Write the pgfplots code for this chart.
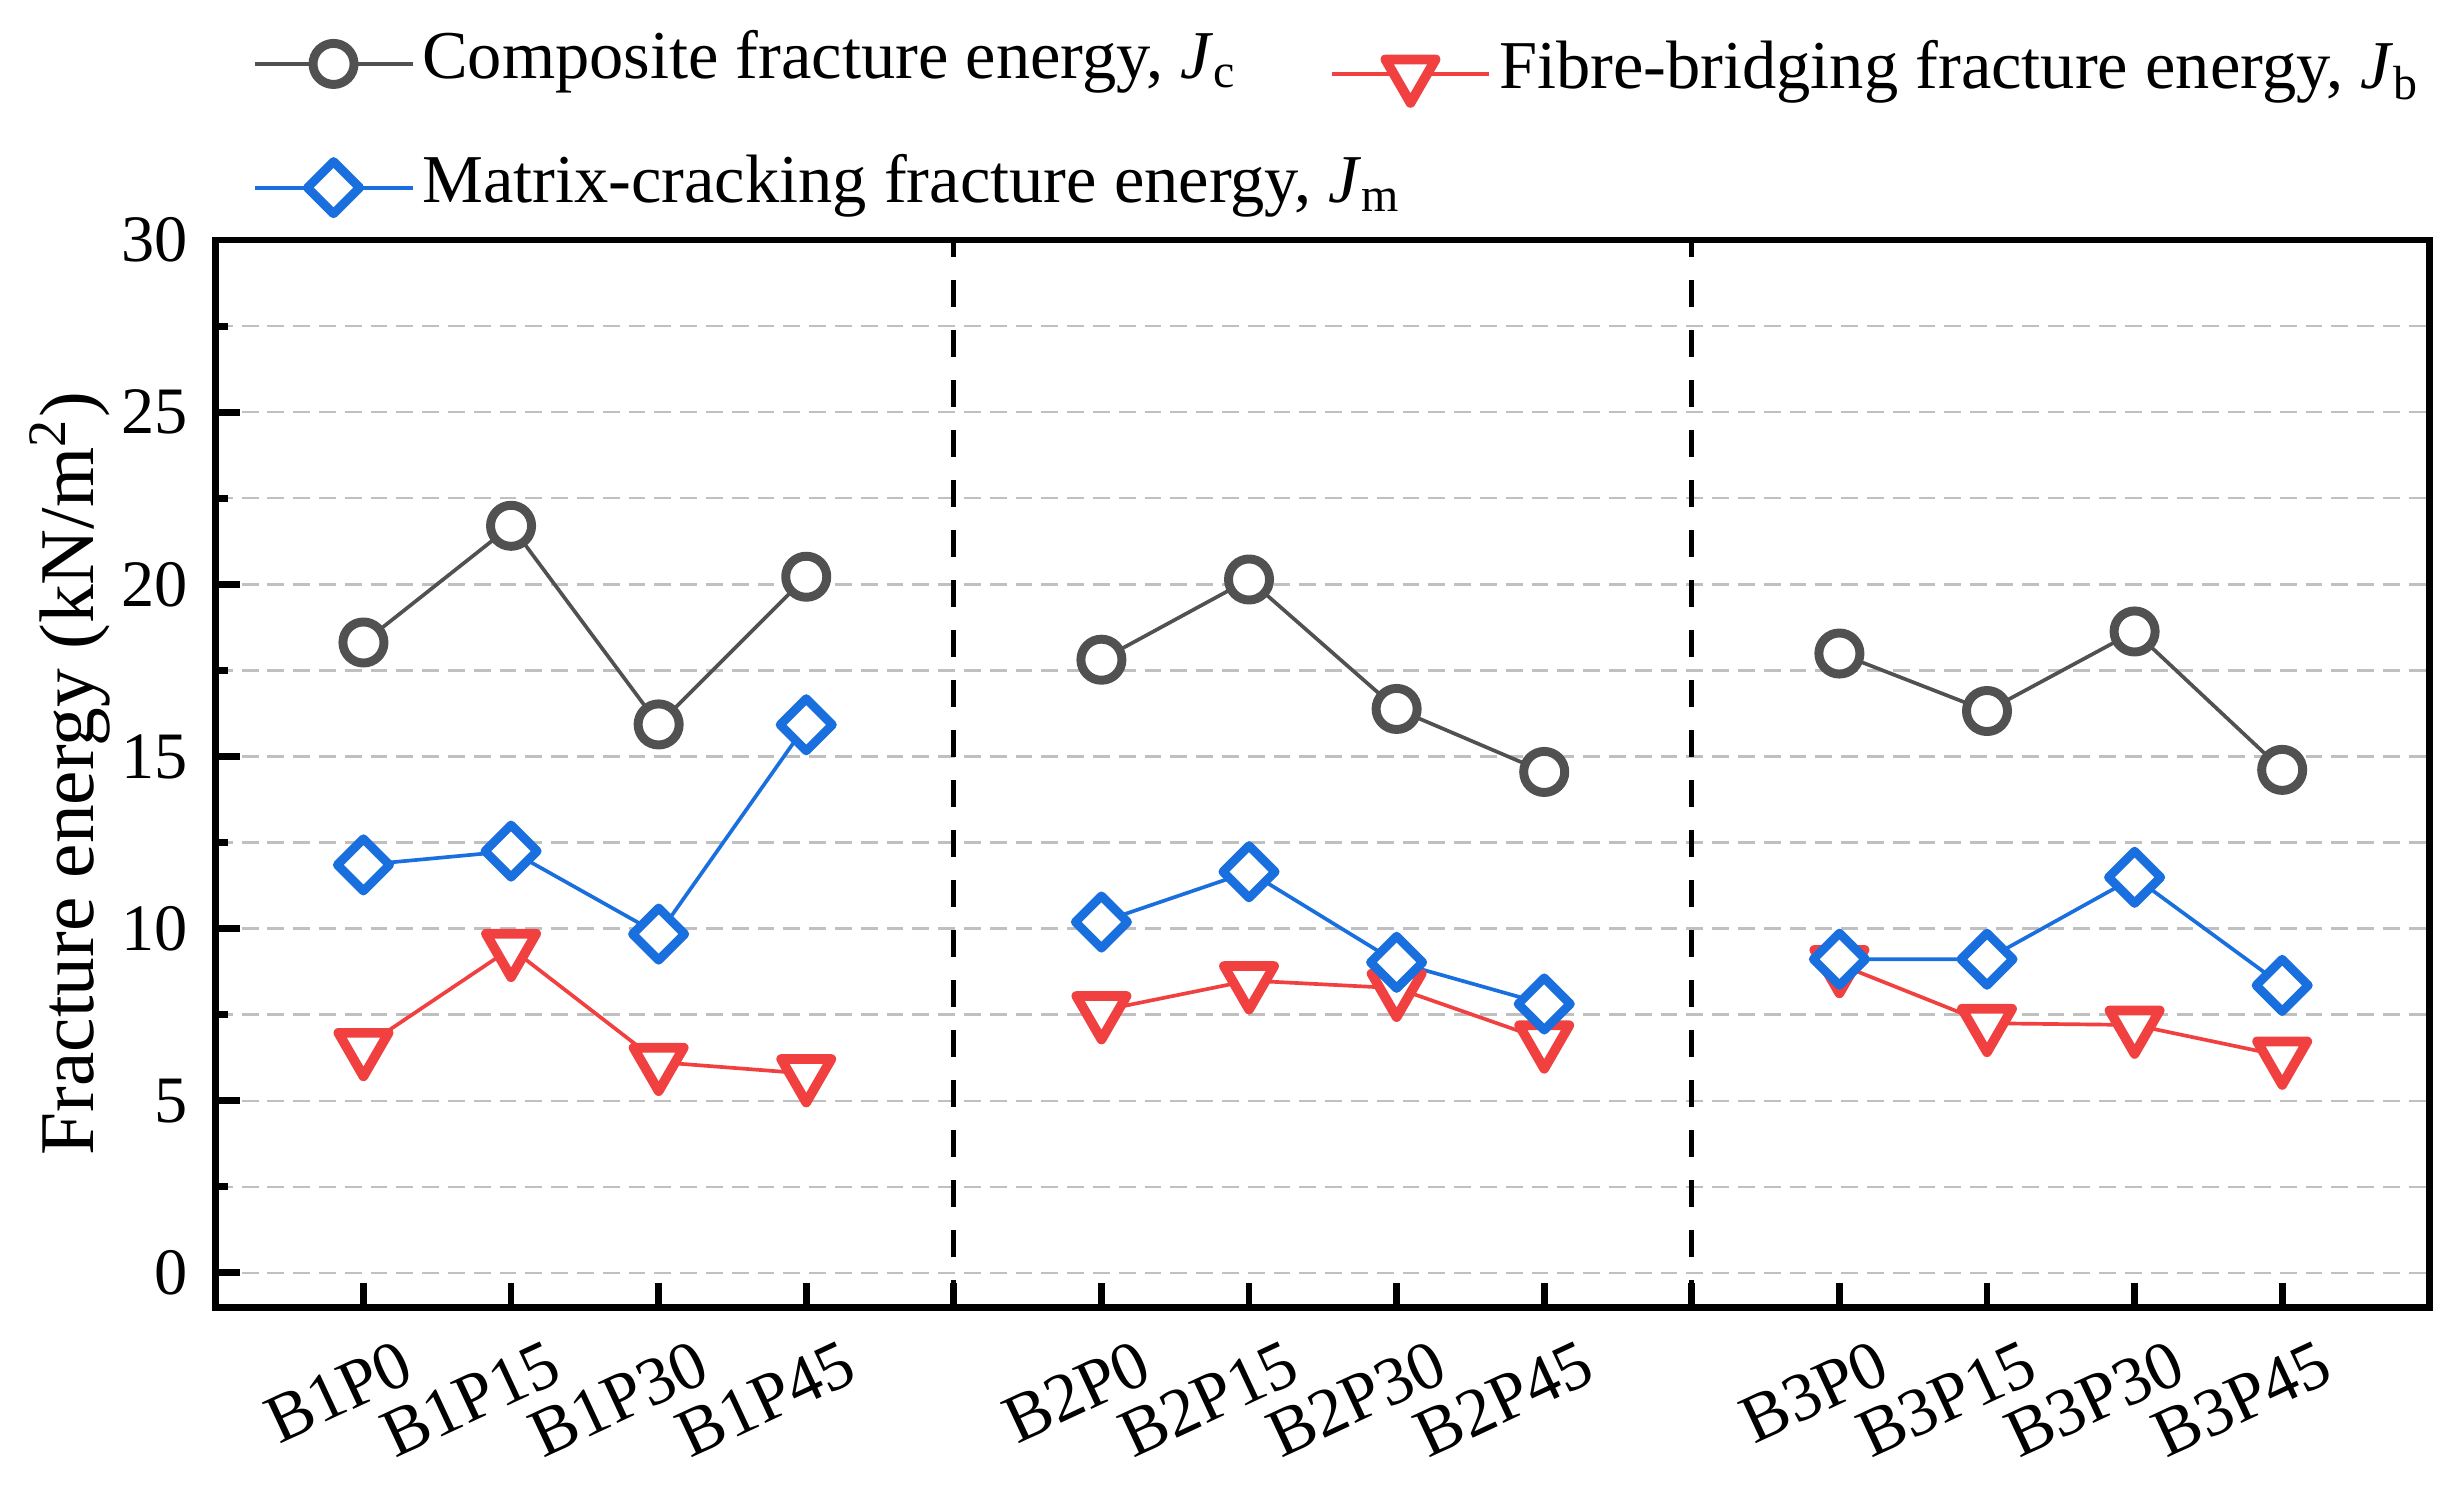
\documentclass[border=0pt]{standalone}
\usepackage{fontspec}
\setmainfont{Liberation Serif}
\usepackage{pgfplots}
\pgfplotsset{compat=1.18}
\definecolor{cgray}{HTML}{515151}
\definecolor{cred}{HTML}{F14040}
\definecolor{cblue}{HTML}{1A6FDF}
\pgfplotsset{
  std legend/.style={legend image code/.code={\draw[mark repeat=2, mark phase=2, ##1] plot coordinates {(0pt,0pt) (15pt,0pt) (30pt,0pt)};}},
  low legend/.style={legend image code/.code={\draw[mark repeat=2, mark phase=2, yshift=-1.9pt, ##1] plot coordinates {(0pt,0pt) (15pt,0pt) (30pt,0pt)};}},
}
\begin{document}
\begin{tikzpicture}
\begin{axis}[
  scale only axis,
  width=420.5pt, height=202.7pt,
  xmin=0, xmax=15, ymin=-1, ymax=30,
  axis line style={line width=1.3pt, black},
  every tick/.style={black, line width=1.3pt},
  tick align=inside,
  xtick pos=left, ytick pos=left,
  major tick length=4.6pt, minor tick length=2.3pt,
  xtick={1,2,3,4,5,6,7,8,9,10,11,12,13,14},
  xticklabels={B1P0,B1P15,B1P30,B1P45,,B2P0,B2P15,B2P30,B2P45,,B3P0,B3P15,B3P30,B3P45},
  ytick={0,5,10,15,20,25,30},
  minor ytick={2.5,7.5,12.5,17.5,22.5,27.5},
  ymajorgrids, yminorgrids,
  major grid style={line width=0.45pt, color={rgb,255:red,192;green,192;blue,192}, dash pattern=on 3.2pt off 1.7pt},
  minor grid style={line width=0.45pt, color={rgb,255:red,192;green,192;blue,192}, dash pattern=on 3.2pt off 1.7pt},
  /pgf/number format/assume math mode=true,
  tick label style={font=\fontsize{12.6}{15}\selectfont},
  yticklabel style={inner sep=0pt, xshift=-5.1pt},
  xticklabel style={xshift=6.6pt, yshift=-5.7pt, rotate=25, anchor=north east, inner sep=0pt, font=\fontsize{13}{15}\selectfont},
  ylabel={Fracture energy (kN/m\textsuperscript{2})},
  every axis y label/.style={at={(axis description cs:0,0.5)}, xshift=-27.7pt, rotate=90, anchor=center, font=\fontsize{14.7}{17}\selectfont},
  unbounded coords=jump,
  legend columns=2,
  legend cell align=left,
  legend style={draw=none, fill=none, at={(axis description cs:0,1)}, anchor=south west,
    xshift=6.8pt, yshift=2pt, inner sep=0pt,
    font=\fontsize{13}{15}\selectfont,
    nodes={inner sep=1.5pt, text height=9pt, text depth=3.5pt},
    row sep=8pt,
    /tikz/every even column/.append style={column sep=16pt}},
  std legend,
]
\addplot[forget plot, black, line width=1.0pt, dash pattern=on 5.1pt off 4.4pt] coordinates {(5,-1) (5,30)};
\addplot[forget plot, black, line width=1.0pt, dash pattern=on 5.1pt off 4.4pt] coordinates {(10,-1) (10,30)};
\addplot[cgray, line width=0.7pt, mark=*, mark size=3.9pt,
  mark options={fill=white, draw=cgray, line width=1.7pt, line join=round}]
  coordinates {(1,18.31) (2,21.70) (3,15.93) (4,20.22) (5,nan)
               (6,17.81) (7,20.14) (8,16.38) (9,14.55) (10,nan)
               (11,17.99) (12,16.32) (13,18.63) (14,14.61)};
\addlegendentry{Composite fracture energy, \textit{J}\textsubscript{c}}
\addplot[cred, line width=0.7pt, mark=triangle*, mark size=5.5pt,
  mark options={fill=white, draw=cred, line width=1.85pt, line join=round, rotate=180},
  low legend]
  coordinates {(1,6.55) (2,9.43) (3,6.12) (4,5.79) (5,nan)
               (6,7.62) (7,8.49) (8,8.27) (9,6.77) (10,nan)
               (11,8.96) (12,7.25) (13,7.20) (14,6.30)};
\addlegendentry{\raisebox{-1.9pt}{Fibre-bridging fracture energy, \textit{J}\textsubscript{b}}}
\addplot[cblue, line width=0.7pt, mark=square*, mark size=3.5pt,
  mark options={fill=white, draw=cblue, line width=1.7pt, line join=round, rotate=45}]
  coordinates {(1,11.85) (2,12.25) (3,9.84) (4,15.92) (5,nan)
               (6,10.19) (7,11.65) (8,9.02) (9,7.81) (10,nan)
               (11,9.11) (12,9.11) (13,11.49) (14,8.35)};
\addlegendentry{\makebox[0pt][l]{Matrix-cracking fracture energy, \textit{J}\textsubscript{m}}}
\end{axis}
\pgfresetboundingbox
\path[use as bounding box] ([xshift=-41.0pt, yshift=-34.6pt]current axis.south west) rectangle ([xshift=6.5pt, yshift=45.6pt]current axis.north east);
\end{tikzpicture}
\end{document}
